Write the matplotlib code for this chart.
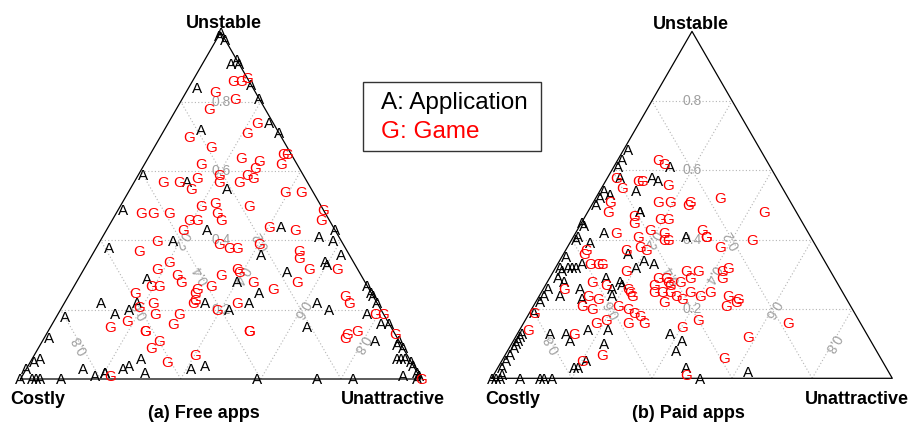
import numpy as np
import matplotlib
matplotlib.use("Agg")
import matplotlib.pyplot as plt
from matplotlib.patches import Rectangle

plt.rcParams['font.family'] = ['Liberation Sans', 'DejaVu Sans']

# ---------------- data (ternary shares: costly, unattractive, unstable) ----------------
# (a) Free apps - Applications
free_app_costly = [0.00, 0.01, 0.00, 0.02, 0.00, 0.00, 0.00, 0.14, 0.00, 0.01, 0.19, 0.00, 0.40, 0.30, 0.21,
                   0.50, 0.32, 0.13, 0.59, 0.42, 0.22, 0.05, 0.02, 0.00, 0.02, 0.07, 0.07, 0.54, 0.18, 0.32,
                   0.28, 0.69, 0.63, 0.60, 0.43, 0.32, 0.67, 0.38, 0.15, 0.13, 0.00, 0.00, 0.00, 0.00, 0.04,
                   0.02, 0.00, 0.21, 0.80, 0.87, 0.06, 0.00, 0.00, 0.03, 0.02, 0.01, 0.00, 0.00, 0.00, 0.00,
                   0.04, 0.01, 0.17, 0.94, 0.92, 0.97, 1.00, 0.97, 0.96, 0.95, 0.90, 0.83, 0.81, 0.78, 0.78,
                   0.73, 0.71, 0.67, 0.68, 0.56, 0.52, 0.41, 0.26, 0.01]
free_app_unattr = [0.00, 0.00, 0.02, 0.07, 0.08, 0.09, 0.15, 0.02, 0.19, 0.25, 0.09, 0.29, 0.01, 0.13, 0.24,
                   0.01, 0.25, 0.43, 0.03, 0.18, 0.42, 0.54, 0.58, 0.57, 0.62, 0.59, 0.60, 0.17, 0.51, 0.40,
                   0.47, 0.09, 0.17, 0.18, 0.35, 0.46, 0.14, 0.42, 0.63, 0.67, 0.73, 0.75, 0.76, 0.78, 0.77,
                   0.82, 0.84, 0.64, 0.02, 0.01, 0.83, 0.89, 0.91, 0.91, 0.92, 0.93, 0.95, 0.96, 0.98, 0.99,
                   0.95, 0.99, 0.83, 0.01, 0.02, 0.00, 0.00, 0.03, 0.04, 0.05, 0.10, 0.14, 0.18, 0.20, 0.20,
                   0.24, 0.25, 0.27, 0.30, 0.41, 0.44, 0.59, 0.74, 0.89]
free_app_unstab = [1.00, 0.99, 0.98, 0.91, 0.92, 0.91, 0.85, 0.84, 0.81, 0.74, 0.72, 0.71, 0.59, 0.57, 0.55,
                   0.49, 0.43, 0.44, 0.38, 0.40, 0.36, 0.41, 0.40, 0.43, 0.36, 0.34, 0.33, 0.29, 0.31, 0.28,
                   0.25, 0.22, 0.20, 0.22, 0.22, 0.22, 0.19, 0.20, 0.22, 0.20, 0.27, 0.25, 0.24, 0.22, 0.19,
                   0.16, 0.16, 0.15, 0.18, 0.12, 0.11, 0.11, 0.09, 0.06, 0.06, 0.06, 0.05, 0.04, 0.02, 0.01,
                   0.01, 0.00, 0.00, 0.05, 0.06, 0.03, 0.00, 0.00, 0.00, 0.00, 0.00, 0.03, 0.01, 0.02, 0.02,
                   0.03, 0.04, 0.06, 0.02, 0.03, 0.04, 0.00, 0.00, 0.10]

# (a) Free apps - Games
free_game_costly = [0.04, 0.02, 0.00, 0.10, 0.06, 0.14, 0.04, 0.23, 0.08, 0.19, 0.02, 0.01, 0.13, 0.09, 0.24,
                    0.04, 0.11, 0.36, 0.32, 0.27, 0.30, 0.21, 0.22, 0.17, 0.14, 0.13, 0.07, 0.03, 0.46, 0.43,
                    0.39, 0.30, 0.26, 0.18, 0.35, 0.33, 0.27, 0.27, 0.00, 0.02, 0.16, 0.10, 0.46, 0.38, 0.52,
                    0.31, 0.29, 0.27, 0.21, 0.12, 0.13, 0.12, 0.05, 0.46, 0.50, 0.46, 0.46, 0.35, 0.30, 0.30,
                    0.28, 0.17, 0.54, 0.52, 0.43, 0.44, 0.45, 0.46, 0.39, 0.24, 0.59, 0.60, 0.56, 0.35, 0.57,
                    0.51, 0.41, 0.07, 0.07, 0.02, 0.00, 0.70, 0.65, 0.62, 0.62, 0.54, 0.36, 0.36, 0.60, 0.63,
                    0.12, 0.13, 0.09, 0.00, 0.00, 0.77, 0.61, 0.53]
free_game_unattr = [0.10, 0.12, 0.13, 0.07, 0.13, 0.08, 0.22, 0.07, 0.21, 0.14, 0.33, 0.34, 0.23, 0.28, 0.14,
                    0.34, 0.28, 0.07, 0.11, 0.15, 0.15, 0.20, 0.21, 0.26, 0.27, 0.29, 0.39, 0.43, 0.06, 0.09,
                    0.13, 0.20, 0.23, 0.32, 0.19, 0.21, 0.25, 0.27, 0.51, 0.52, 0.40, 0.47, 0.14, 0.19, 0.11,
                    0.30, 0.33, 0.35, 0.40, 0.51, 0.52, 0.56, 0.63, 0.20, 0.18, 0.24, 0.26, 0.35, 0.38, 0.39,
                    0.44, 0.55, 0.19, 0.21, 0.31, 0.31, 0.32, 0.32, 0.34, 0.50, 0.16, 0.19, 0.22, 0.43, 0.24,
                    0.30, 0.39, 0.69, 0.71, 0.79, 0.81, 0.15, 0.18, 0.24, 0.24, 0.30, 0.50, 0.50, 0.29, 0.28,
                    0.75, 0.75, 0.77, 0.87, 1.00, 0.22, 0.34, 0.40]
free_game_unstab = [0.86, 0.86, 0.87, 0.83, 0.81, 0.78, 0.74, 0.70, 0.71, 0.67, 0.65, 0.65, 0.64, 0.63, 0.62,
                    0.62, 0.61, 0.57, 0.57, 0.58, 0.55, 0.59, 0.57, 0.57, 0.59, 0.58, 0.54, 0.54, 0.48, 0.48,
                    0.48, 0.50, 0.51, 0.50, 0.46, 0.46, 0.48, 0.46, 0.49, 0.46, 0.44, 0.43, 0.40, 0.43, 0.37,
                    0.39, 0.38, 0.38, 0.39, 0.37, 0.35, 0.32, 0.32, 0.34, 0.32, 0.30, 0.28, 0.30, 0.32, 0.31,
                    0.28, 0.28, 0.27, 0.27, 0.26, 0.25, 0.23, 0.22, 0.27, 0.26, 0.25, 0.21, 0.22, 0.22, 0.19,
                    0.19, 0.20, 0.24, 0.22, 0.19, 0.19, 0.15, 0.17, 0.14, 0.14, 0.16, 0.14, 0.14, 0.11, 0.09,
                    0.13, 0.12, 0.14, 0.13, 0.00, 0.01, 0.05, 0.07]

# (b) Paid apps - Applications
paid_app_costly = [0.33, 0.36, 0.38, 0.39, 0.37, 0.31, 0.30, 0.25, 0.45, 0.44, 0.47, 0.49, 0.55, 0.55, 0.51,
                   0.58, 0.59, 0.56, 0.64, 0.67, 0.67, 0.65, 0.64, 0.63, 0.61, 0.39, 0.39, 0.31, 0.48, 0.45,
                   0.43, 0.48, 0.69, 0.68, 0.73, 0.75, 0.77, 0.80, 0.65, 0.66, 0.57, 0.57, 0.54, 0.54, 0.58,
                   0.86, 0.87, 0.88, 0.89, 0.90, 0.92, 0.94, 0.96, 0.97, 1.00, 0.99, 0.98, 0.93, 0.88, 0.87,
                   0.85, 0.79, 0.75, 0.75, 0.74, 0.78, 0.77, 0.69, 0.64, 0.67, 0.49, 0.47, 0.50, 0.50, 0.48,
                   0.35, 0.71]
paid_app_unattr = [0.01, 0.01, 0.01, 0.03, 0.09, 0.11, 0.13, 0.14, 0.01, 0.03, 0.01, 0.01, 0.00, 0.01, 0.07,
                   0.01, 0.01, 0.05, 0.01, 0.01, 0.02, 0.03, 0.04, 0.05, 0.06, 0.13, 0.13, 0.28, 0.16, 0.21,
                   0.24, 0.20, 0.02, 0.04, 0.01, 0.01, 0.01, 0.01, 0.09, 0.11, 0.14, 0.17, 0.18, 0.19, 0.18,
                   0.01, 0.01, 0.01, 0.01, 0.01, 0.01, 0.01, 0.01, 0.02, 0.00, 0.01, 0.02, 0.07, 0.12, 0.13,
                   0.15, 0.08, 0.12, 0.14, 0.21, 0.19, 0.20, 0.17, 0.22, 0.23, 0.38, 0.42, 0.42, 0.47, 0.52,
                   0.63, 0.05]
paid_app_unstab = [0.66, 0.63, 0.61, 0.58, 0.54, 0.58, 0.57, 0.61, 0.54, 0.53, 0.52, 0.50, 0.45, 0.44, 0.42,
                   0.41, 0.40, 0.39, 0.35, 0.32, 0.31, 0.32, 0.32, 0.32, 0.33, 0.48, 0.48, 0.41, 0.36, 0.34,
                   0.33, 0.32, 0.29, 0.28, 0.26, 0.24, 0.22, 0.19, 0.26, 0.23, 0.29, 0.26, 0.28, 0.27, 0.24,
                   0.13, 0.12, 0.11, 0.10, 0.09, 0.07, 0.05, 0.03, 0.01, 0.00, 0.00, 0.00, 0.00, 0.00, 0.00,
                   0.00, 0.13, 0.13, 0.11, 0.05, 0.03, 0.03, 0.14, 0.14, 0.10, 0.13, 0.11, 0.08, 0.03, 0.00,
                   0.02, 0.24]

# (b) Paid apps - Games
paid_game_costly = [0.27, 0.26, 0.40, 0.35, 0.34, 0.28, 0.40, 0.33, 0.30, 0.25, 0.26, 0.17, 0.08, 0.45, 0.47,
                    0.35, 0.33, 0.41, 0.42, 0.48, 0.39, 0.36, 0.36, 0.37, 0.43, 0.26, 0.26, 0.26, 0.24, 0.15,
                    0.48, 0.44, 0.43, 0.58, 0.59, 0.59, 0.57, 0.56, 0.51, 0.36, 0.33, 0.27, 0.25, 0.28, 0.44,
                    0.42, 0.42, 0.39, 0.36, 0.42, 0.47, 0.45, 0.43, 0.42, 0.41, 0.38, 0.36, 0.33, 0.46, 0.29,
                    0.27, 0.31, 0.28, 0.58, 0.53, 0.53, 0.53, 0.62, 0.64, 0.61, 0.67, 0.65, 0.58, 0.56, 0.55,
                    0.54, 0.54, 0.63, 0.66, 0.58, 0.40, 0.18, 0.45, 0.30, 0.39, 0.51, 0.69, 0.80, 0.84, 0.73,
                    0.75, 0.69, 0.46]
paid_game_unattr = [0.10, 0.12, 0.02, 0.08, 0.09, 0.16, 0.05, 0.16, 0.19, 0.24, 0.24, 0.31, 0.44, 0.04, 0.05,
                    0.19, 0.21, 0.12, 0.13, 0.10, 0.18, 0.22, 0.24, 0.23, 0.16, 0.31, 0.33, 0.33, 0.38, 0.45,
                    0.15, 0.18, 0.20, 0.05, 0.05, 0.08, 0.10, 0.11, 0.18, 0.33, 0.36, 0.42, 0.43, 0.43, 0.27,
                    0.29, 0.30, 0.33, 0.35, 0.31, 0.28, 0.30, 0.32, 0.34, 0.36, 0.37, 0.40, 0.42, 0.32, 0.47,
                    0.50, 0.48, 0.50, 0.15, 0.21, 0.22, 0.23, 0.15, 0.12, 0.11, 0.12, 0.15, 0.21, 0.24, 0.26,
                    0.28, 0.30, 0.20, 0.18, 0.26, 0.43, 0.66, 0.40, 0.58, 0.55, 0.48, 0.05, 0.01, 0.02, 0.14,
                    0.20, 0.24, 0.27]
paid_game_unstab = [0.63, 0.62, 0.58, 0.57, 0.57, 0.56, 0.55, 0.51, 0.51, 0.51, 0.50, 0.52, 0.48, 0.51, 0.48,
                    0.46, 0.46, 0.47, 0.45, 0.42, 0.43, 0.42, 0.40, 0.40, 0.41, 0.43, 0.41, 0.41, 0.38, 0.40,
                    0.37, 0.38, 0.37, 0.37, 0.36, 0.33, 0.33, 0.33, 0.31, 0.31, 0.31, 0.31, 0.32, 0.29, 0.29,
                    0.29, 0.28, 0.28, 0.29, 0.27, 0.25, 0.25, 0.25, 0.24, 0.23, 0.25, 0.24, 0.25, 0.22, 0.24,
                    0.23, 0.21, 0.22, 0.27, 0.26, 0.25, 0.24, 0.23, 0.24, 0.28, 0.21, 0.20, 0.21, 0.20, 0.19,
                    0.18, 0.16, 0.17, 0.16, 0.16, 0.17, 0.16, 0.15, 0.12, 0.06, 0.01, 0.26, 0.19, 0.14, 0.13,
                    0.05, 0.07, 0.27]

grid_values = [0.2, 0.4, 0.6, 0.8]
grid_labels = ["0.2", "0.4", "0.6", "0.8"]
vertex_labels = ["Costly", "Unattractive", "Unstable"]
panel_titles = ["(a) Free apps", "(b) Paid apps"]
legend_entries = [("A: Application", "black"), ("G: Game", "red")]

# ---------------- drawing ----------------
W, H = 909, 422
fig = plt.figure(figsize=(W / 100, H / 100), dpi=100)
S3 = np.sqrt(3) / 2


def tern(c, a, u):
    c, a, u = (np.asarray(v, dtype=float) for v in (c, a, u))
    t = c + a + u
    a, u = a / t, u / t
    return a + u / 2, u * S3


def px(x, y):
    return x / W, 1 - y / H


def make_ax(x0, x1, ybase):
    w = x1 - x0
    ax = fig.add_axes([x0 / W, 1 - ybase / H, w / W, w * S3 / H])
    ax.set_xlim(0, 1)
    ax.set_ylim(0, S3)
    ax.axis('off')
    return ax


def draw_panel(ax, apps, games):
    gkw = dict(ls=(0, (1, 2)), color='#b4b4b4', lw=0.8, zorder=1)
    for v in grid_values:
        ax.plot(*tern([v, v], [1 - v, 0], [0, 1 - v]), **gkw)
        ax.plot(*tern([1 - v, 0], [v, v], [0, 1 - v]), **gkw)
        ax.plot(*tern([1 - v, 0], [0, 1 - v], [v, v]), **gkw)
    ax.plot(*tern([1, 0, 0, 1], [0, 1, 0, 0], [0, 0, 1, 0]), color='black', lw=0.9,
            clip_on=False, zorder=2)
    lkw = dict(color='#a0a0a0', fontsize=10, ha='center', va='center',
               rotation_mode='anchor', zorder=1)
    for v, lab in zip(grid_values, grid_labels):
        r = (1 - v) / 2
        ax.text(*tern(v, r, r), lab, rotation=120, **lkw)
        ax.text(*tern(r, v, r), lab, rotation=240, **lkw)
        ax.text(*tern(r, r, v), lab, rotation=0, **lkw)
    for (c, a, u), (txt, col) in zip((apps, games), legend_entries):
        xs, ys = tern(c, a, u)
        for x, y in zip(xs, ys):
            ax.text(x, y, txt[0], color=col, fontsize=11, ha='center',
                    va='center_baseline', clip_on=False, zorder=3)


axL = make_ax(20.5, 421.0, 379.0)
draw_panel(axL, (free_app_costly, free_app_unattr, free_app_unstab),
           (free_game_costly, free_game_unattr, free_game_unstab))
axR = make_ax(491.7, 892.3, 378.3)
draw_panel(axR, (paid_app_costly, paid_app_unattr, paid_app_unstab),
           (paid_game_costly, paid_game_unattr, paid_game_unstab))

bold = dict(fontsize=13, fontweight='bold', ha='center', va='center_baseline')
fig.text(*px(38, 398), vertex_labels[0], **bold)
fig.text(*px(393, 397), vertex_labels[1], **bold)
fig.text(*px(223.5, 21), vertex_labels[2], **bold)
fig.text(*px(204, 411), panel_titles[0], **bold)
fig.text(*px(512.5, 397), vertex_labels[0], **bold)
fig.text(*px(856.5, 397), vertex_labels[1], **bold)
fig.text(*px(690.5, 22.5), vertex_labels[2], **bold)
fig.text(*px(688.5, 412), panel_titles[1], **bold)

# legend box
x0, y0 = px(363, 151)
x1, y1 = px(541, 82)
fig.add_artist(Rectangle((x0, y0), x1 - x0, y1 - y0, transform=fig.transFigure,
                         fill=False, edgecolor='#333333', lw=1.0))
for (txt, col), yy in zip(legend_entries, (101, 130)):
    fig.text(*px(381, yy), txt, color=col, fontsize=17.5, ha='left', va='center_baseline')

fig.savefig('out.png', dpi=100)
